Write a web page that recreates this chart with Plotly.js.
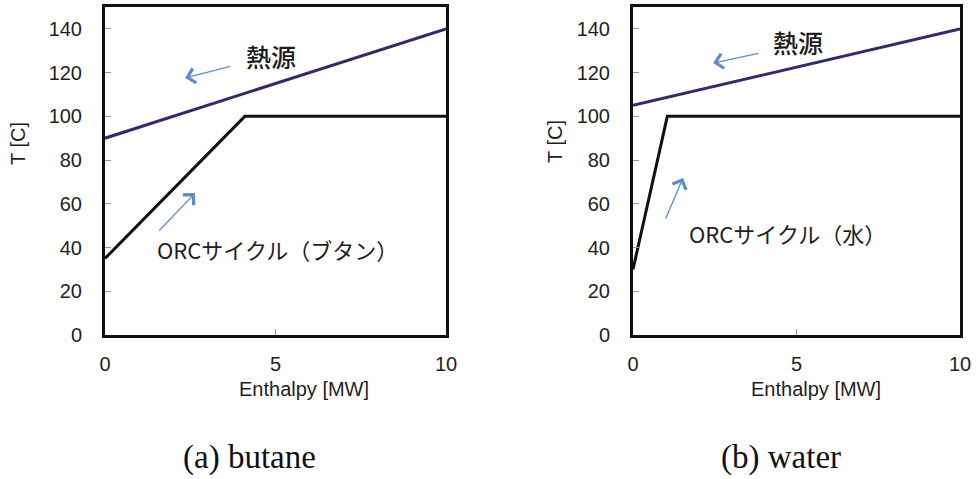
<!DOCTYPE html>
<html>
<head>
<meta charset="utf-8">
<script src="https://cdn.plot.ly/plotly-3.0.1.min.js"></script>
<style>html,body{margin:0;padding:0;background:#fff;}#chart{width:976px;height:479px;}</style>
</head>
<body>
<div id="chart"></div>
<script>
// ---- data ----
const butaneHeatX = [0, 10];
const butaneHeatT = [90, 140];
const butaneOrcX = [0, 4.1, 10];
const butaneOrcT = [35, 100, 100];
const waterHeatX = [0, 10];
const waterHeatT = [105, 140];
const waterOrcX = [0, 1.05, 10];
const waterOrcT = [30, 100, 100];
const xTicks = [0, 5, 10];
const yTicks = [0, 20, 40, 60, 80, 100, 120, 140];
const heatLabel = '熱源';
const orcLabels = ['ORCサイクル（ブタン）', 'ORCサイクル（水）'];
const captions = ['(a) butane', '(b) water'];
const xTitle = 'Enthalpy [MW]';
const yTitle = 'T [C]';

const W = 976, H = 479;
const HEAT = '#2d2c6c', ORC = '#111111', ARROW = '#5b8ccb';
const tickFont = {family: 'Liberation Sans, Arial, sans-serif', size: 20, color: '#1e1e1e'};
const jpFont = {family: 'Noto Sans CJK JP, sans-serif', size: 22, color: '#1e1e1e'};
const heatFont = {family: 'Noto Sans CJK JP, sans-serif', size: 25, color: '#1e1e1e', weight: 500};

const traces = [
  {x: butaneHeatX, y: butaneHeatT, xaxis: 'x', yaxis: 'y', mode: 'lines', line: {color: HEAT, width: 3}},
  {x: butaneOrcX, y: butaneOrcT, xaxis: 'x', yaxis: 'y', mode: 'lines', line: {color: ORC, width: 3}},
  {x: waterHeatX, y: waterHeatT, xaxis: 'x2', yaxis: 'y2', mode: 'lines', line: {color: HEAT, width: 3}},
  {x: waterOrcX, y: waterOrcT, xaxis: 'x2', yaxis: 'y2', mode: 'lines', line: {color: ORC, width: 3}}
];

function xax(domain, anchor) {
  return {domain: domain, anchor: anchor, range: [0, 10], tickvals: xTicks, ticktext: xTicks.map(String),
    ticks: 'inside', ticklen: 6, tickcolor: '#999', tickwidth: 1, showgrid: false, zeroline: false,
    showline: true, linecolor: '#111', linewidth: 3, mirror: true, tickfont: tickFont, ticklabelstandoff: 9};
}
function yax(domain, anchor) {
  return {domain: domain, anchor: anchor, range: [0, 150], tickvals: yTicks, ticktext: yTicks.map(String),
    ticks: 'inside', ticklen: 6, tickcolor: '#999', tickwidth: 1, showgrid: false, zeroline: false,
    showline: true, linecolor: '#111', linewidth: 3, mirror: true, tickfont: tickFont, ticklabelstandoff: 16};
}
const yDom = [1 - 335 / H, 1 - 7 / H];

function arrow(xref, yref, x, y, ax, ay) {
  return {xref: xref, yref: yref, axref: xref, ayref: yref, x: x, y: y, ax: ax, ay: ay, text: '',
    showarrow: true, arrowhead: 4, arrowsize: 2.2, arrowwidth: 1.3, arrowcolor: ARROW};
}
function label(xref, yref, x, y, text, font) {
  return {xref: xref, yref: yref, x: x, y: y, text: text, showarrow: false, font: font, xanchor: 'center', yanchor: 'middle'};
}
function paperText(x, y, text, font, angle) {
  return {xref: 'paper', yref: 'paper', x: x / W, y: 1 - y / H, text: text, showarrow: false, font: font,
    xanchor: 'center', yanchor: 'middle', textangle: angle || 0, borderpad: 0};
}
const titleFont = {family: 'Liberation Sans, Arial, sans-serif', size: 20, color: '#1e1e1e'};
const capFont = {family: 'Liberation Serif, Times New Roman, serif', size: 33, color: '#111'};

const annotations = [
  label('x', 'y', 4.87, 127.6, heatLabel, heatFont),
  arrow('x', 'y', 2.35, 117.5, 3.72, 123),
  label('x', 'y', 5.07, 39.3, orcLabels[0], jpFont),
  arrow('x', 'y', 2.64, 64.9, 1.55, 47.1),
  label('x2', 'y2', 5.05, 134, heatLabel, heatFont),
  arrow('x2', 'y2', 2.45, 124.4, 3.88, 128.9),
  label('x2', 'y2', 4.71, 46.6, orcLabels[1], jpFont),
  arrow('x2', 'y2', 1.53, 71.8, 0.98, 52.6),
  paperText(304, 389, xTitle, titleFont),
  paperText(816, 389, xTitle, titleFont),
  paperText(18, 144, yTitle, titleFont, -90),
  paperText(555, 142, yTitle, titleFont, -90),
  paperText(250, 457, captions[0], capFont),
  paperText(781, 457, captions[1], capFont)
];

const layout = {
  width: W, height: H, margin: {l: 0, r: 0, t: 0, b: 0},
  paper_bgcolor: '#fff', plot_bgcolor: '#fff', showlegend: false,
  xaxis: xax([105 / W, 446 / W], 'y'),
  yaxis: yax(yDom, 'x'),
  xaxis2: xax([633 / W, 960 / W], 'y2'),
  yaxis2: yax(yDom, 'x2'),
  annotations: annotations
};
Plotly.newPlot('chart', traces, layout, {displayModeBar: false, staticPlot: true});
</script>
</body>
</html>
